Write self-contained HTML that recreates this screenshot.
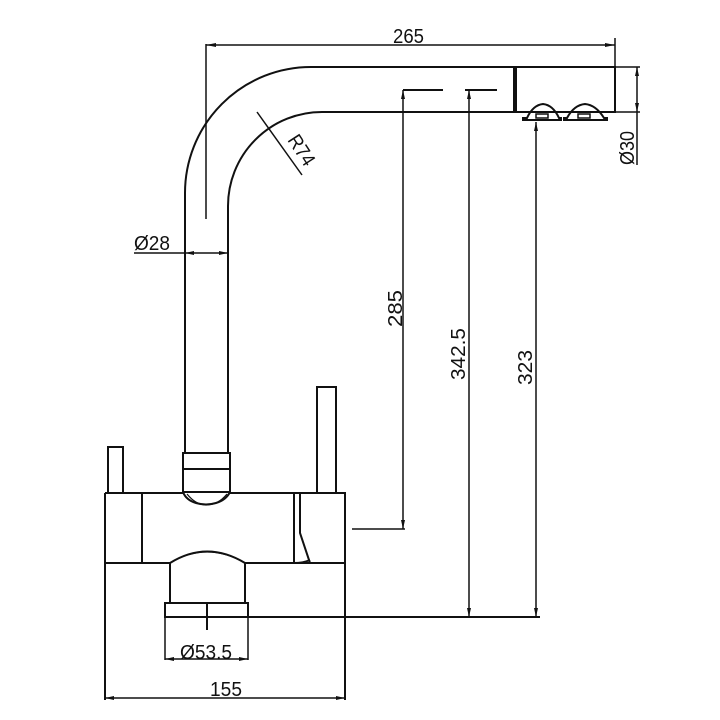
<!DOCTYPE html>
<html><head><meta charset="utf-8"><style>html,body{margin:0;padding:0;background:#fff}svg{display:block}</style></head>
<body>
<svg width="720" height="720" viewBox="0 0 720 720" xmlns="http://www.w3.org/2000/svg" font-family="Liberation Sans, sans-serif" font-size="20" fill="none" stroke="#111" stroke-width="2">
<path d="M185 453 L185 193 A126 126 0 0 1 311 67 L514 67"/>
<path d="M228 453 L228 206 A94 94 0 0 1 322 112 L514 112"/>
<rect x="514" y="67" width="101" height="45"/>
<line x1="515" y1="67" x2="515" y2="112" stroke-width="4"/>
<path d="M522 118 L527 118 Q533 105 543 104 Q553 105 559 118 L562 118" stroke-width="2"/>
<path d="M522 120 L562 120"/>
<rect x="536" y="114" width="12" height="4" stroke-width="1.5"/>
<path d="M563 118 L567 118 Q574 105 585 104 Q596 105 604 118 L608 118"/>
<path d="M563 120 L608 120"/>
<rect x="578" y="114" width="12" height="4" stroke-width="1.5"/>
<path d="M183 453 L230 453 L230 492 L183 492 Z"/>
<line x1="183" y1="469" x2="230" y2="469"/>
<path d="M183 492 Q186 500 196 503 Q206 506 216 503 Q226 500 230 492"/>
<path d="M187 494 Q196 505 206 505 Q218 505 227 494" stroke-width="1.2"/>
<path d="M105 493 L183 493 M230 493 L300 493 L345 493 L345 563 L310 563 L300 533 L300 493"/>
<path d="M105 493 L105 700 M345 563 L345 700"/>
<line x1="105" y1="563" x2="170" y2="563"/>
<line x1="245" y1="563" x2="310" y2="563"/>
<line x1="142" y1="493" x2="142" y2="563"/>
<line x1="294" y1="493" x2="294" y2="563"/>
<path d="M294 563 Q303 563 310 560"/>
<rect x="108" y="447" width="15" height="46"/>
<rect x="317" y="387" width="19" height="106"/>
<path d="M170 603 L170 563 Q207 540 245 563 L245 603"/>
<path d="M173 561 Q207 543 242 561" stroke-width="1.2"/>
<rect x="165" y="603" width="83" height="14"/>
<line x1="207" y1="603" x2="207" y2="630"/>
<line x1="165" y1="617" x2="540" y2="617"/>
<line x1="105" y1="698" x2="345" y2="698" stroke-width="1.5"/>
<path d="M105 698 l9 -2 v4 Z M345 698 l-9 -2 v4 Z" fill="#111" stroke="none"/>
<line x1="165" y1="617" x2="165" y2="660" stroke-width="1.5"/>
<line x1="248" y1="617" x2="248" y2="660" stroke-width="1.5"/>
<line x1="165" y1="659" x2="248" y2="659" stroke-width="1.5"/>
<path d="M165 659 l9 -2 v4 Z M248 659 l-9 -2 v4 Z" fill="#111" stroke="none"/>
<line x1="206" y1="44" x2="206" y2="219" stroke-width="1.5"/>
<line x1="615" y1="38" x2="615" y2="112" stroke-width="1.5"/>
<line x1="206" y1="45" x2="615" y2="45" stroke-width="1.5"/>
<path d="M206 45 l10 -2 v4 Z M615 45 l-10 -2 v4 Z" fill="#111" stroke="none"/>
<line x1="615" y1="67" x2="640" y2="67" stroke-width="1.5"/>
<line x1="615" y1="112" x2="640" y2="112" stroke-width="1.5"/>
<line x1="637" y1="67" x2="637" y2="112" stroke-width="1.5"/>
<line x1="637" y1="112" x2="637" y2="165" stroke-width="1.5"/>
<path d="M637 67 l-2 9 h4 Z M637 112 l-2 -9 h4 Z" fill="#111" stroke="none"/>
<line x1="134" y1="253" x2="228" y2="253" stroke-width="1.5"/>
<path d="M185 253 l9 -2 v4 Z M228 253 l-9 -2 v4 Z" fill="#111" stroke="none"/>
<line x1="257" y1="112" x2="302" y2="175" stroke-width="1.5"/>
<line x1="403" y1="90" x2="443" y2="90"/>
<line x1="465" y1="90" x2="497" y2="90"/>
<line x1="403" y1="90" x2="403" y2="529" stroke-width="1.5"/>
<line x1="352" y1="529" x2="405" y2="529" stroke-width="1.5"/>
<path d="M403 90 l-2 9 h4 Z M403 529 l-2 -9 h4 Z" fill="#111" stroke="none"/>
<line x1="469" y1="90" x2="469" y2="617" stroke-width="1.5"/>
<path d="M469 90 l-2 9 h4 Z M469 617 l-2 -9 h4 Z" fill="#111" stroke="none"/>
<line x1="536" y1="122" x2="536" y2="617" stroke-width="1.5"/>
<path d="M536 122 l-2 9 h4 Z M536 617 l-2 -9 h4 Z" fill="#111" stroke="none"/>
<g fill="#111" stroke="none">
<text x="393" y="43" textLength="31" lengthAdjust="spacingAndGlyphs">265</text>
<text x="134" y="250" textLength="36" lengthAdjust="spacingAndGlyphs">Ø28</text>
<text x="180" y="659" textLength="52" lengthAdjust="spacingAndGlyphs">Ø53.5</text>
<text x="210" y="696" textLength="32" lengthAdjust="spacingAndGlyphs">155</text>
<text transform="translate(402 327) rotate(-90)" textLength="37" lengthAdjust="spacingAndGlyphs">285</text>
<text transform="translate(465 380) rotate(-90)" textLength="52" lengthAdjust="spacingAndGlyphs">342.5</text>
<text transform="translate(532 385) rotate(-90)" textLength="35" lengthAdjust="spacingAndGlyphs">323</text>
<text transform="translate(634 165) rotate(-90)" textLength="34" lengthAdjust="spacingAndGlyphs">Ø30</text>
<text transform="translate(287 140) rotate(57)" textLength="33" lengthAdjust="spacingAndGlyphs">R74</text>
</g>
</svg>
</body></html>
